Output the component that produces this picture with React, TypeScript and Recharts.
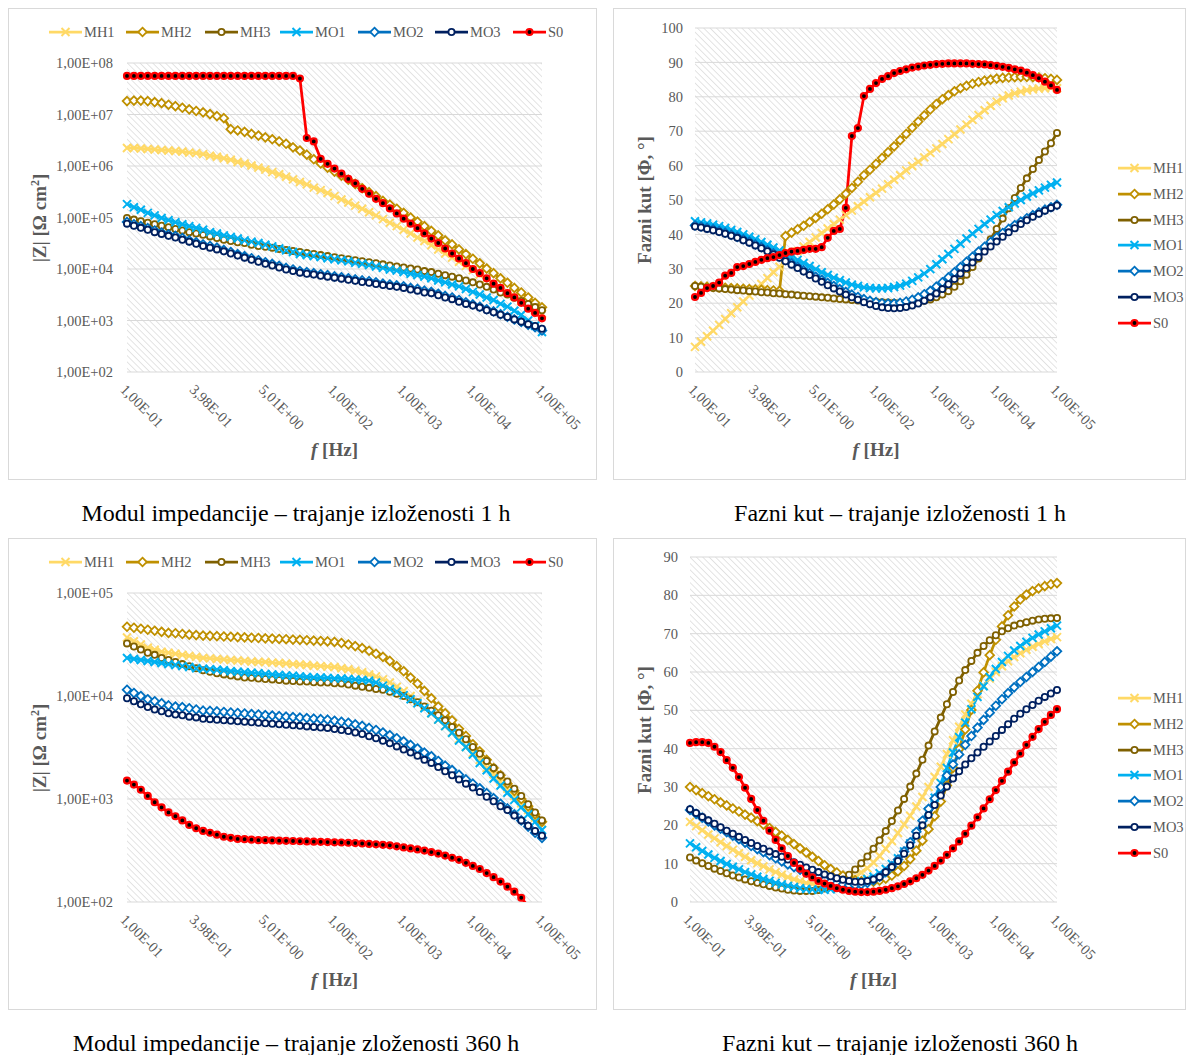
import React from "react";
import { LineChart, Line, XAxis, YAxis, CartesianGrid } from "recharts";

// 61 measuring points per series, a frequency label on every 10th one
const POINTS = Array.from({ length: 61 }, (_, i) => i);
const FREQ_TICKS = [0, 10, 20, 30, 40, 50, 60];
const FREQ_LABELS = ["1,00E-01", "3,98E-01", "5,01E+00", "1,00E+02", "1,00E+03", "1,00E+04", "1,00E+05"];

const SERIES = ["MH1", "MH2", "MH3", "MO1", "MO2", "MO3", "S0"];

const Z1_TICKS = [1e2, 1e3, 1e4, 1e5, 1e6, 1e7, 1e8];
const Z2_TICKS = [1e2, 1e3, 1e4, 1e5];
const P1_TICKS = [0, 10, 20, 30, 40, 50, 60, 70, 80, 90, 100];
const P2_TICKS = [0, 10, 20, 30, 40, 50, 60, 70, 80, 90];

// |Z| after 1 h
const Z1_MH1 = [2.24e6, 2.24e6, 2.19e6, 2.14e6, 2.09e6, 2.04e6, 2.0e6, 1.95e6, 1.91e6, 1.82e6, 1.78e6, 1.7e6, 1.58e6, 1.51e6, 1.41e6, 1.32e6, 1.2e6, 1.12e6, 1.02e6, 9.3e5, 8.5e5, 7.6e5, 6.9e5, 6.2e5, 5.5e5, 4.9e5, 4.4e5, 3.8e5, 3.4e5, 3.0e5, 2.6e5, 2.24e5, 1.95e5, 1.7e5, 1.48e5, 1.26e5, 1.1e5, 9.3e4, 7.9e4, 6.8e4, 5.8e4, 4.9e4, 4.1e4, 3.5e4, 2.9e4, 2.4e4, 2.0e4, 1.66e4, 1.38e4, 1.15e4, 9.5e3, 7.8e3, 6.5e3, 5.2e3, 4.4e3, 3.5e3, 2.95e3, 2.4e3, 2.0e3, 1.62e3, 1.35e3];
const Z1_MH2 = [1.82e7, 1.86e7, 1.86e7, 1.82e7, 1.74e7, 1.66e7, 1.55e7, 1.45e7, 1.35e7, 1.26e7, 1.17e7, 1.1e7, 1.02e7, 9.3e6, 8.5e6, 5.2e6, 4.9e6, 4.6e6, 4.2e6, 3.9e6, 3.6e6, 3.3e6, 3.0e6, 2.7e6, 2.3e6, 2.0e6, 1.66e6, 1.35e6, 1.12e6, 9.3e5, 7.8e5, 6.5e5, 5.4e5, 4.5e5, 3.7e5, 3.1e5, 2.6e5, 2.1e5, 1.78e5, 1.48e5, 1.23e5, 1.0e5, 8.3e4, 6.8e4, 5.5e4, 4.5e4, 3.6e4, 3.0e4, 2.4e4, 1.95e4, 1.58e4, 1.29e4, 1.02e4, 8.3e3, 6.6e3, 5.4e3, 4.3e3, 3.5e3, 2.8e3, 2.2e3, 1.8e3];
const Z1_MH3 = [9.8e4, 9.1e4, 8.5e4, 7.9e4, 7.4e4, 6.9e4, 6.5e4, 6.0e4, 5.6e4, 5.2e4, 4.9e4, 4.6e4, 4.3e4, 4.0e4, 3.7e4, 3.5e4, 3.3e4, 3.2e4, 2.95e4, 2.8e4, 2.7e4, 2.6e4, 2.45e4, 2.35e4, 2.24e4, 2.14e4, 2.04e4, 1.95e4, 1.86e4, 1.78e4, 1.7e4, 1.62e4, 1.55e4, 1.48e4, 1.41e4, 1.35e4, 1.29e4, 1.23e4, 1.17e4, 1.12e4, 1.07e4, 1.02e4, 9.8e3, 9.1e3, 8.7e3, 8.1e3, 7.6e3, 7.1e3, 6.6e3, 6.0e3, 5.5e3, 5.0e3, 4.5e3, 4.0e3, 3.5e3, 3.2e3, 2.75e3, 2.4e3, 2.1e3, 1.82e3, 1.58e3];
const Z1_MO1 = [1.82e5, 1.58e5, 1.41e5, 1.23e5, 1.1e5, 9.8e4, 8.9e4, 8.1e4, 7.4e4, 6.8e4, 6.3e4, 5.8e4, 5.2e4, 4.9e4, 4.5e4, 4.2e4, 3.9e4, 3.6e4, 3.4e4, 3.2e4, 2.95e4, 2.75e4, 2.5e4, 2.3e4, 2.14e4, 1.95e4, 1.86e4, 1.78e4, 1.7e4, 1.62e4, 1.55e4, 1.48e4, 1.41e4, 1.32e4, 1.26e4, 1.2e4, 1.12e4, 1.05e4, 9.8e3, 9.3e3, 8.7e3, 8.1e3, 7.6e3, 7.1e3, 6.6e3, 6.0e3, 5.5e3, 5.0e3, 4.6e3, 4.1e3, 3.6e3, 3.2e3, 2.8e3, 2.5e3, 2.1e3, 1.86e3, 1.55e3, 1.29e3, 1.0e3, 7.9e2, 6.0e2];
const Z1_MO2 = [8.2e4, 7.4e4, 6.8e4, 6.2e4, 5.6e4, 5.1e4, 4.7e4, 4.4e4, 4.0e4, 3.6e4, 3.3e4, 3.0e4, 2.8e4, 2.6e4, 2.35e4, 2.14e4, 1.95e4, 1.78e4, 1.62e4, 1.48e4, 1.35e4, 1.26e4, 1.15e4, 1.05e4, 9.8e3, 9.1e3, 8.7e3, 8.3e3, 7.9e3, 7.6e3, 7.2e3, 6.9e3, 6.6e3, 6.3e3, 6.0e3, 5.8e3, 5.5e3, 5.2e3, 5.0e3, 4.8e3, 4.6e3, 4.3e3, 4.1e3, 3.8e3, 3.6e3, 3.3e3, 3.0e3, 2.8e3, 2.5e3, 2.25e3, 2.05e3, 1.85e3, 1.65e3, 1.5e3, 1.32e3, 1.18e3, 1.05e3, 9.4e2, 8.3e2, 7.4e2, 6.4e2];
const Z1_MO3 = [7.6e4, 6.9e4, 6.3e4, 5.8e4, 5.2e4, 4.8e4, 4.4e4, 4.1e4, 3.7e4, 3.4e4, 3.1e4, 2.8e4, 2.6e4, 2.4e4, 2.2e4, 2.0e4, 1.82e4, 1.66e4, 1.51e4, 1.38e4, 1.26e4, 1.17e4, 1.07e4, 9.8e3, 9.1e3, 8.5e3, 8.1e3, 7.8e3, 7.4e3, 7.1e3, 6.8e3, 6.5e3, 6.2e3, 5.9e3, 5.6e3, 5.4e3, 5.1e3, 4.9e3, 4.7e3, 4.5e3, 4.3e3, 4.0e3, 3.8e3, 3.5e3, 3.4e3, 3.1e3, 2.8e3, 2.6e3, 2.3e3, 2.1e3, 1.95e3, 1.78e3, 1.58e3, 1.45e3, 1.29e3, 1.17e3, 1.05e3, 9.5e2, 8.5e2, 7.8e2, 6.9e2];
const Z1_S0 = [5.6e7, 5.6e7, 5.6e7, 5.6e7, 5.6e7, 5.6e7, 5.6e7, 5.6e7, 5.6e7, 5.6e7, 5.6e7, 5.6e7, 5.6e7, 5.6e7, 5.6e7, 5.6e7, 5.6e7, 5.6e7, 5.6e7, 5.6e7, 5.6e7, 5.6e7, 5.6e7, 5.6e7, 5.6e7, 5.0e7, 3.5e6, 3.0e6, 1.38e6, 1.1e6, 8.9e5, 7.1e5, 5.6e5, 4.6e5, 3.6e5, 2.9e5, 2.3e5, 1.9e5, 1.5e5, 1.2e5, 9.5e4, 7.6e4, 6.2e4, 4.9e4, 3.9e4, 3.2e4, 2.5e4, 2.0e4, 1.6e4, 1.3e4, 1.0e4, 8.3e3, 6.6e3, 5.2e3, 4.3e3, 3.4e3, 2.8e3, 2.2e3, 1.7e3, 1.4e3, 1.1e3];

// phase angle after 1 h
const P1_MH1 = [7.3, 8.8, 10.4, 12.0, 13.7, 15.4, 17.1, 18.8, 20.5, 22.2, 23.9, 25.6, 27.3, 29.0, 30.6, 32.2, 33.7, 35.1, 36.5, 37.8, 39.1, 40.4, 41.7, 43.0, 44.3, 45.6, 46.9, 48.2, 49.5, 50.8, 52.1, 53.3, 54.6, 55.9, 57.2, 58.6, 59.9, 61.1, 62.4, 63.7, 65.0, 66.3, 67.7, 69.1, 70.5, 71.9, 73.3, 74.7, 76.1, 77.4, 78.6, 79.6, 80.4, 81.0, 81.5, 81.9, 82.2, 82.4, 82.5, 82.6, 82.5];
const P1_MH2 = [25.0, 24.9, 24.8, 24.7, 24.6, 24.5, 24.4, 24.3, 24.2, 24.1, 24.0, 23.9, 23.8, 23.7, 23.6, 39.5, 40.5, 41.5, 42.5, 43.6, 44.8, 46.0, 47.3, 48.7, 50.2, 51.8, 53.5, 55.3, 57.2, 58.8, 60.5, 62.2, 63.9, 65.6, 67.4, 69.2, 71.0, 72.8, 74.6, 76.3, 77.9, 79.3, 80.5, 81.6, 82.5, 83.2, 83.8, 84.3, 84.7, 85.0, 85.3, 85.5, 85.6, 85.7, 85.8, 85.8, 85.7, 85.6, 85.4, 85.2, 84.9];
const P1_MH3 = [25.0, 24.8, 24.6, 24.4, 24.3, 24.1, 24.0, 23.8, 23.7, 23.5, 23.4, 23.2, 23.1, 22.9, 22.8, 22.6, 22.5, 22.3, 22.2, 22.0, 21.9, 21.7, 21.6, 21.4, 21.2, 21.1, 20.9, 20.8, 20.6, 20.5, 20.4, 20.3, 20.2, 20.1, 20.1, 20.1, 20.2, 20.4, 20.7, 21.1, 21.7, 22.5, 23.5, 24.8, 26.4, 28.3, 30.5, 33.0, 35.7, 38.6, 41.6, 44.6, 47.6, 50.6, 53.5, 56.3, 59.0, 61.6, 64.1, 66.5, 69.5];
const P1_MO1 = [43.8, 43.5, 43.2, 42.8, 42.4, 41.9, 41.3, 40.7, 40.0, 39.3, 38.6, 37.8, 37.0, 36.2, 35.3, 34.4, 33.5, 32.6, 31.7, 30.8, 29.9, 29.0, 28.2, 27.4, 26.7, 26.0, 25.4, 25.0, 24.6, 24.4, 24.3, 24.3, 24.4, 24.7, 25.1, 25.7, 26.5, 27.5, 28.6, 29.9, 31.3, 32.8, 34.3, 35.8, 37.3, 38.8, 40.2, 41.6, 43.0, 44.3, 45.6, 46.8, 47.9, 49.0, 50.0, 51.0, 51.9, 52.8, 53.6, 54.4, 55.1];
const P1_MO2 = [42.6, 42.3, 41.9, 41.5, 41.0, 40.5, 39.9, 39.3, 38.6, 37.9, 37.1, 36.3, 35.4, 34.5, 33.6, 32.6, 31.6, 30.6, 29.6, 28.7, 27.7, 26.8, 25.9, 25.0, 24.1, 23.3, 22.5, 21.8, 21.2, 20.7, 20.3, 20.0, 19.9, 19.9, 20.1, 20.5, 21.0, 21.7, 22.6, 23.6, 24.8, 26.1, 27.5, 29.0, 30.5, 32.0, 33.5, 35.0, 36.4, 37.8, 39.1, 40.4, 41.6, 42.7, 43.7, 44.7, 45.6, 46.4, 47.2, 47.9, 48.6];
const P1_MO3 = [42.3, 42.0, 41.6, 41.2, 40.7, 40.2, 39.6, 39.0, 38.3, 37.6, 36.8, 36.0, 35.1, 34.2, 33.2, 32.2, 31.2, 30.2, 29.2, 28.2, 27.2, 26.2, 25.2, 24.3, 23.4, 22.5, 21.7, 21.0, 20.3, 19.7, 19.2, 18.8, 18.6, 18.5, 18.6, 18.9, 19.3, 19.9, 20.7, 21.7, 22.8, 24.1, 25.5, 27.0, 28.6, 30.2, 31.8, 33.4, 35.0, 36.5, 37.9, 39.3, 40.6, 41.8, 43.0, 44.1, 45.1, 46.0, 46.9, 47.7, 48.4];
const P1_S0 = [21.8, 23.0, 24.4, 25.0, 26.0, 28.0, 28.8, 30.5, 30.8, 31.4, 32.0, 32.6, 33.1, 33.4, 34.0, 34.6, 35.0, 35.2, 35.5, 35.8, 35.8, 36.3, 39.0, 41.0, 41.6, 47.7, 68.6, 70.9, 80.2, 82.3, 84.0, 85.2, 86.0, 86.9, 87.5, 88.0, 88.5, 88.8, 89.1, 89.3, 89.5, 89.6, 89.7, 89.7, 89.7, 89.7, 89.6, 89.5, 89.4, 89.2, 89.0, 88.7, 88.4, 88.0, 87.6, 87.0, 86.3, 85.4, 84.4, 83.3, 82.0];

// |Z| after 360 h
const Z2_MH1 = [3.7e4, 3.4e4, 3.16e4, 2.95e4, 2.82e4, 2.69e4, 2.63e4, 2.57e4, 2.51e4, 2.45e4, 2.4e4, 2.34e4, 2.32e4, 2.29e4, 2.26e4, 2.24e4, 2.21e4, 2.19e4, 2.16e4, 2.14e4, 2.14e4, 2.11e4, 2.09e4, 2.07e4, 2.04e4, 2.02e4, 2.0e4, 1.97e4, 1.95e4, 1.93e4, 1.91e4, 1.86e4, 1.82e4, 1.76e4, 1.7e4, 1.62e4, 1.55e4, 1.45e4, 1.35e4, 1.23e4, 1.12e4, 1.0e4, 8.9e3, 7.8e3, 6.8e3, 5.9e3, 5.1e3, 4.4e3, 3.8e3, 3.2e3, 2.8e3, 2.4e3, 2.0e3, 1.74e3, 1.48e3, 1.26e3, 1.07e3, 9.1e2, 7.8e2, 6.6e2, 5.8e2];
const Z2_MH2 = [4.7e4, 4.6e4, 4.5e4, 4.4e4, 4.3e4, 4.2e4, 4.1e4, 4.07e4, 4.0e4, 3.94e4, 3.9e4, 3.86e4, 3.84e4, 3.81e4, 3.78e4, 3.76e4, 3.73e4, 3.71e4, 3.68e4, 3.66e4, 3.63e4, 3.61e4, 3.58e4, 3.56e4, 3.53e4, 3.51e4, 3.48e4, 3.45e4, 3.42e4, 3.39e4, 3.35e4, 3.27e4, 3.16e4, 3.05e4, 2.92e4, 2.75e4, 2.57e4, 2.4e4, 2.19e4, 1.95e4, 1.74e4, 1.51e4, 1.32e4, 1.12e4, 9.5e3, 7.9e3, 6.8e3, 5.8e3, 4.8e3, 4.1e3, 3.4e3, 2.9e3, 2.4e3, 2.0e3, 1.7e3, 1.41e3, 1.2e3, 1.0e3, 8.5e2, 7.1e2, 6.0e2];
const Z2_MH3 = [3.24e4, 3.02e4, 2.82e4, 2.63e4, 2.51e4, 2.34e4, 2.24e4, 2.14e4, 2.04e4, 1.95e4, 1.86e4, 1.78e4, 1.72e4, 1.66e4, 1.62e4, 1.58e4, 1.55e4, 1.51e4, 1.5e4, 1.48e4, 1.46e4, 1.45e4, 1.43e4, 1.41e4, 1.4e4, 1.38e4, 1.38e4, 1.36e4, 1.35e4, 1.35e4, 1.33e4, 1.32e4, 1.29e4, 1.26e4, 1.23e4, 1.2e4, 1.17e4, 1.15e4, 1.1e4, 1.05e4, 1.0e4, 9.3e3, 8.7e3, 7.9e3, 7.2e3, 6.5e3, 5.8e3, 5.0e3, 4.4e3, 3.8e3, 3.2e3, 2.75e3, 2.34e3, 2.0e3, 1.7e3, 1.48e3, 1.26e3, 1.07e3, 8.9e2, 7.4e2, 6.2e2];
const Z2_MO1 = [2.34e4, 2.29e4, 2.24e4, 2.19e4, 2.14e4, 2.09e4, 2.04e4, 2.0e4, 1.95e4, 1.91e4, 1.86e4, 1.84e4, 1.82e4, 1.8e4, 1.78e4, 1.74e4, 1.72e4, 1.7e4, 1.68e4, 1.66e4, 1.64e4, 1.62e4, 1.6e4, 1.58e4, 1.57e4, 1.55e4, 1.53e4, 1.51e4, 1.51e4, 1.5e4, 1.48e4, 1.48e4, 1.46e4, 1.45e4, 1.43e4, 1.41e4, 1.35e4, 1.26e4, 1.17e4, 1.1e4, 1.02e4, 9.3e3, 8.5e3, 7.6e3, 6.8e3, 5.9e3, 5.1e3, 4.4e3, 3.7e3, 3.2e3, 2.7e3, 2.24e3, 1.9e3, 1.58e3, 1.35e3, 1.15e3, 9.8e2, 8.3e2, 7.1e2, 6.0e2, 5.0e2];
const Z2_MO2 = [1.15e4, 1.07e4, 1.0e4, 9.3e3, 8.9e3, 8.5e3, 8.1e3, 7.9e3, 7.8e3, 7.6e3, 7.4e3, 7.2e3, 7.16e3, 7.08e3, 7.0e3, 6.92e3, 6.84e3, 6.76e3, 6.68e3, 6.61e3, 6.53e3, 6.46e3, 6.38e3, 6.31e3, 6.24e3, 6.17e3, 6.1e3, 6.03e3, 5.96e3, 5.89e3, 5.75e3, 5.62e3, 5.5e3, 5.31e3, 5.13e3, 4.9e3, 4.68e3, 4.42e3, 4.17e3, 3.89e3, 3.63e3, 3.35e3, 3.09e3, 2.82e3, 2.6e3, 2.34e3, 2.11e3, 1.91e3, 1.72e3, 1.55e3, 1.41e3, 1.27e3, 1.14e3, 1.02e3, 9.0e2, 8.1e2, 7.1e2, 6.2e2, 5.4e2, 4.7e2, 4.2e2];
const Z2_MO3 = [9.5e3, 8.9e3, 8.3e3, 7.8e3, 7.4e3, 7.1e3, 6.8e3, 6.6e3, 6.5e3, 6.3e3, 6.2e3, 6.0e3, 5.96e3, 5.89e3, 5.82e3, 5.75e3, 5.69e3, 5.62e3, 5.56e3, 5.5e3, 5.43e3, 5.37e3, 5.31e3, 5.25e3, 5.19e3, 5.13e3, 5.07e3, 5.01e3, 4.95e3, 4.9e3, 4.79e3, 4.68e3, 4.57e3, 4.42e3, 4.27e3, 4.07e3, 3.89e3, 3.67e3, 3.47e3, 3.24e3, 3.02e3, 2.82e3, 2.63e3, 2.4e3, 2.24e3, 2.04e3, 1.86e3, 1.7e3, 1.55e3, 1.41e3, 1.29e3, 1.17e3, 1.05e3, 9.5e2, 8.5e2, 7.8e2, 6.9e2, 6.2e2, 5.5e2, 4.9e2, 4.4e2];
const Z2_S0 = [1.51e3, 1.38e3, 1.23e3, 1.07e3, 9.3e2, 8.3e2, 7.4e2, 6.8e2, 6.2e2, 5.6e2, 5.2e2, 4.9e2, 4.7e2, 4.5e2, 4.3e2, 4.2e2, 4.1e2, 4.07e2, 4.03e2, 3.98e2, 3.98e2, 3.96e2, 3.94e2, 3.93e2, 3.91e2, 3.89e2, 3.87e2, 3.85e2, 3.84e2, 3.82e2, 3.8e2, 3.78e2, 3.76e2, 3.73e2, 3.7e2, 3.66e2, 3.63e2, 3.59e2, 3.55e2, 3.47e2, 3.39e2, 3.31e2, 3.24e2, 3.16e2, 3.05e2, 2.95e2, 2.82e2, 2.69e2, 2.57e2, 2.4e2, 2.24e2, 2.09e2, 1.91e2, 1.74e2, 1.58e2, 1.41e2, 1.26e2, 1.1e2, 91, 76, 63];

// phase angle after 360 h
const P2_MH1 = [20.9, 19.8, 18.7, 17.6, 16.6, 15.6, 14.6, 13.6, 12.7, 11.8, 10.9, 10.1, 9.3, 8.5, 7.8, 7.1, 6.5, 5.9, 5.4, 5.0, 4.7, 4.5, 4.4, 4.4, 4.5, 5.0, 5.6, 6.5, 7.7, 8.8, 10.3, 12.0, 13.9, 15.9, 18.0, 20.2, 22.5, 24.9, 27.4, 30.0, 32.6, 35.3, 38.6, 42.2, 45.7, 48.9, 51.7, 54.2, 56.4, 58.3, 60.0, 61.5, 62.8, 63.9, 64.9, 65.8, 66.6, 67.3, 68.0, 68.6, 69.1];
const P2_MH2 = [30.0, 29.2, 28.4, 27.6, 26.8, 26.0, 25.2, 24.4, 23.6, 22.8, 22.0, 21.1, 20.2, 19.3, 18.3, 17.3, 16.2, 15.1, 14.0, 12.9, 11.8, 10.7, 9.6, 8.6, 7.7, 6.9, 6.2, 5.7, 5.4, 5.3, 5.3, 5.6, 6.1, 6.9, 8.0, 9.4, 11.2, 13.4, 16.0, 19.0, 22.4, 26.2, 30.4, 35.0, 39.9, 45.0, 50.1, 55.1, 59.9, 64.4, 68.4, 71.9, 74.8, 77.1, 78.9, 80.2, 81.1, 81.8, 82.4, 82.9, 83.2];
const P2_MH3 = [11.6, 10.8, 10.1, 9.4, 8.7, 8.1, 7.5, 6.9, 6.4, 5.9, 5.4, 5.0, 4.6, 4.2, 3.8, 3.5, 3.2, 3.0, 2.9, 2.9, 2.9, 3.1, 3.5, 4.1, 4.9, 5.9, 7.1, 8.5, 10.1, 11.9, 13.9, 16.1, 18.5, 21.1, 23.9, 26.9, 30.1, 33.5, 37.1, 40.8, 44.5, 48.1, 51.6, 54.8, 57.8, 60.5, 62.9, 65.0, 66.8, 68.3, 69.6, 70.6, 71.4, 72.1, 72.6, 73.0, 73.4, 73.7, 73.9, 74.0, 74.1];
const P2_MO1 = [15.3, 14.3, 13.3, 12.4, 11.5, 10.7, 9.9, 9.2, 8.5, 7.8, 7.2, 6.6, 6.0, 5.5, 5.0, 4.6, 4.2, 3.9, 3.6, 3.4, 3.3, 3.2, 3.2, 3.3, 3.5, 3.8, 4.3, 4.8, 5.4, 6.0, 6.6, 7.5, 8.6, 9.9, 11.4, 13.2, 15.3, 17.8, 20.6, 23.7, 27.2, 31.0, 35.0, 39.0, 43.0, 46.8, 50.3, 53.5, 56.3, 58.7, 60.8, 62.6, 64.2, 65.6, 66.8, 67.9, 68.9, 69.8, 70.6, 71.4, 72.1];
const P2_MO2 = [24.0, 23.0, 22.0, 21.0, 20.0, 19.1, 18.2, 17.3, 16.4, 15.5, 14.6, 13.8, 13.0, 12.2, 11.4, 10.6, 9.8, 9.1, 8.4, 7.7, 7.0, 6.4, 5.8, 5.3, 4.9, 4.6, 4.4, 4.4, 4.6, 5.0, 5.7, 6.6, 7.8, 9.3, 11.1, 13.2, 15.6, 18.3, 21.2, 24.3, 27.0, 30.0, 33.0, 35.9, 38.5, 41.0, 43.3, 45.5, 47.5, 49.4, 51.2, 52.9, 54.5, 56.0, 57.4, 58.7, 60.0, 61.3, 62.6, 64.0, 65.4];
const P2_MO3 = [24.2, 23.2, 22.2, 21.3, 20.4, 19.5, 18.6, 17.8, 17.0, 16.2, 15.4, 14.6, 13.9, 13.2, 12.5, 11.8, 11.1, 10.4, 9.7, 9.0, 8.4, 7.8, 7.2, 6.7, 6.2, 5.8, 5.5, 5.3, 5.3, 5.5, 5.9, 6.5, 7.8, 9.1, 10.7, 12.6, 14.8, 17.3, 20.0, 22.7, 25.3, 27.8, 30.1, 32.2, 34.1, 35.9, 37.5, 39.0, 40.5, 41.9, 43.3, 44.9, 46.4, 47.8, 49.1, 50.3, 51.4, 52.5, 53.5, 54.4, 55.3];
const P2_S0 = [41.5, 41.7, 41.7, 41.5, 40.5, 39.1, 37.0, 35.0, 32.6, 29.8, 26.9, 24.0, 21.2, 18.6, 16.2, 14.0, 12.0, 10.2, 8.7, 7.4, 6.4, 5.5, 4.8, 4.2, 3.6, 3.2, 2.9, 2.7, 2.6, 2.6, 2.7, 2.9, 3.2, 3.6, 4.1, 4.7, 5.4, 6.2, 7.1, 8.2, 9.4, 10.8, 12.3, 14.0, 15.8, 17.8, 19.9, 22.1, 24.4, 26.8, 29.2, 31.6, 34.0, 36.4, 38.7, 41.0, 43.1, 45.1, 47.0, 48.8, 50.3];

const STYLE: Record<string, { color: string; marker: string }> = {
  MH1: { color: "#FFD966", marker: "x" },
  MH2: { color: "#BF9000", marker: "diamond" },
  MH3: { color: "#7F6000", marker: "circle" },
  MO1: { color: "#00B0F0", marker: "x" },
  MO2: { color: "#0070C0", marker: "diamond" },
  MO3: { color: "#002060", marker: "circle" },
  S0: { color: "#FF0000", marker: "dot" },
};

const FONT = '"Liberation Serif", "Times New Roman", serif';
const GREY = "#595959";

function buildRows(cols: number[][]) {
  return POINTS.map((i) => {
    const row: Record<string, number> = { i };
    SERIES.forEach((name, k) => {
      row[name] = cols[k][i];
    });
    return row;
  });
}

const ROWS_Z1 = buildRows([Z1_MH1, Z1_MH2, Z1_MH3, Z1_MO1, Z1_MO2, Z1_MO3, Z1_S0]);
const ROWS_P1 = buildRows([P1_MH1, P1_MH2, P1_MH3, P1_MO1, P1_MO2, P1_MO3, P1_S0]);
const ROWS_Z2 = buildRows([Z2_MH1, Z2_MH2, Z2_MH3, Z2_MO1, Z2_MO2, Z2_MO3, Z2_S0]);
const ROWS_P2 = buildRows([P2_MH1, P2_MH2, P2_MH3, P2_MO1, P2_MO2, P2_MO3, P2_S0]);

const fmtExp = (v: number) => {
  const e = Math.round(Math.log10(v));
  return `1,00E${e < 0 ? "-" : "+"}${String(Math.abs(e)).padStart(2, "0")}`;
};

function Marker({ cx, cy, name }: { cx: number; cy: number; name: string }) {
  if (cx == null || cy == null || isNaN(cy)) return null;
  const { color, marker } = STYLE[name];
  if (marker === "x") {
    const s = 4;
    return (
      <path
        d={`M${cx - s},${cy - s}L${cx + s},${cy + s}M${cx - s},${cy + s}L${cx + s},${cy - s}`}
        stroke={color}
        strokeWidth={2}
        fill="none"
      />
    );
  }
  if (marker === "diamond") {
    const s = 4.3;
    return (
      <path
        d={`M${cx},${cy - s}L${cx + s},${cy}L${cx},${cy + s}L${cx - s},${cy}Z`}
        fill="#fff"
        stroke={color}
        strokeWidth={1.8}
      />
    );
  }
  if (marker === "circle") {
    return <circle cx={cx} cy={cy} r={3.1} fill="#fff" stroke={color} strokeWidth={1.8} />;
  }
  return <circle cx={cx} cy={cy} r={3} fill="#000" stroke={color} strokeWidth={2.2} />;
}

function FreqTick(props: any) {
  const { x, y, payload } = props;
  const label = FREQ_LABELS[FREQ_TICKS.indexOf(payload.value)];
  return (
    <g transform={`translate(${x},${y + 9}) rotate(45)`}>
      <text x={0} y={0} dy="0.72em" fill={GREY} fontSize={14.5} fontFamily={FONT} textAnchor="start">
        {label}
      </text>
    </g>
  );
}

function LegendItem({ name }: { name: string }) {
  return (
    <div style={{ display: "flex", alignItems: "center", height: 16 }}>
      <svg width={33} height={12}>
        <line x1={0} y1={6} x2={33} y2={6} stroke={STYLE[name].color} strokeWidth={2.75} />
        <Marker cx={16.5} cy={6} name={name} />
      </svg>
      <span style={{ marginLeft: 2, fontSize: 14.5, color: GREY, lineHeight: "16px" }}>{name}</span>
    </div>
  );
}

const TOP_LEGEND_X = [49, 126, 205, 280, 358, 435, 513];

type PanelProps = {
  id: string;
  left: number;
  top: number;
  width: number;
  rows: Record<string, number>[];
  log: boolean;
  yDomain: [number, number];
  yTicks: number[];
  yWidth: number;
  plotTop: number;
  right: number;
  legend: "top" | "right";
  legendTop: number;
  yTitle: React.ReactNode;
  yTitleX: number;
  caption: string;
  captionX: number;
};

function Panel(p: PanelProps) {
  const height = 472;
  const plotLeft = p.left + p.yWidth;
  const plotRight = p.left + p.width - p.right;
  const plotBottom = p.top + height - 108;
  return (
    <>
      <div
        style={{
          position: "absolute",
          left: p.left,
          top: p.top,
          width: p.width,
          height,
          boxSizing: "border-box",
          border: "1px solid #d9d9d9",
        }}
      />
      <div style={{ position: "absolute", left: p.left, top: p.top }}>
        <LineChart
          width={p.width}
          height={height}
          data={p.rows}
          margin={{ top: p.plotTop - p.top, right: p.right, left: 0, bottom: 0 }}
        >
          <defs>
            <pattern
              id={`hatch-${p.id}`}
              width={4.5}
              height={4.5}
              patternUnits="userSpaceOnUse"
              patternTransform="rotate(-45)"
            >
              <line x1={0} y1={0} x2={0} y2={4.5} stroke="#d9d9d9" strokeWidth={1.4} />
            </pattern>
          </defs>
          <CartesianGrid vertical={false} stroke="#d9d9d9" strokeWidth={1} fill={`url(#hatch-${p.id})`} />
          <XAxis
            type="number"
            dataKey="i"
            domain={[0, 60]}
            ticks={FREQ_TICKS}
            interval={0}
            height={108}
            axisLine={false}
            tickLine={false}
            tickSize={0}
            tick={<FreqTick />}
          />
          <YAxis
            type="number"
            scale={p.log ? "log" : "linear"}
            domain={p.yDomain}
            ticks={p.yTicks}
            interval={0}
            allowDataOverflow
            width={p.yWidth}
            axisLine={false}
            tickLine={false}
            tickSize={0}
            tickMargin={p.log ? 14 : 12}
            tickFormatter={p.log ? fmtExp : (v: number) => String(v)}
            tick={{ fill: GREY, fontSize: 14.5, fontFamily: FONT }}
          />
          {SERIES.map((name) => (
            <Line
              key={name}
              type="linear"
              dataKey={name}
              stroke={STYLE[name].color}
              strokeWidth={2.75}
              dot={(d: any) => <Marker key={`${name}-${d.index}`} cx={d.cx} cy={d.cy} name={name} />}
              activeDot={false}
              isAnimationActive={false}
            />
          ))}
        </LineChart>
      </div>

      {p.legend === "top"
        ? SERIES.map((name, k) => (
            <div key={name} style={{ position: "absolute", left: p.left - 8 + TOP_LEGEND_X[k], top: p.legendTop - 8 }}>
              <LegendItem name={name} />
            </div>
          ))
        : SERIES.map((name, k) => (
            <div key={name} style={{ position: "absolute", left: 1118, top: p.legendTop - 8 + k * 25.8 }}>
              <LegendItem name={name} />
            </div>
          ))}

      <div style={{ position: "absolute", left: p.yTitleX, top: (p.plotTop + plotBottom) / 2, width: 0, height: 0 }}>
        <div
          style={{
            position: "absolute",
            transform: "translate(-50%, -50%) rotate(-90deg)",
            whiteSpace: "nowrap",
            fontWeight: "bold",
            fontSize: 19,
            color: GREY,
          }}
        >
          {p.yTitle}
        </div>
      </div>

      <div
        style={{
          position: "absolute",
          left: (plotLeft + plotRight) / 2,
          top: p.top + 442,
          transform: "translate(-50%, -50%)",
          whiteSpace: "nowrap",
          fontWeight: "bold",
          fontSize: 19,
          color: GREY,
        }}
      >
        <i>f</i> [Hz]
      </div>

      <div
        style={{
          position: "absolute",
          left: p.captionX,
          top: p.top + height + 33,
          transform: "translate(-50%, -50%)",
          whiteSpace: "nowrap",
          fontSize: 24,
          color: "#000",
        }}
      >
        {p.caption}
      </div>
    </>
  );
}

export default function App() {
  const zTitle = (
    <span>
      |Z| [Ω cm<sup style={{ fontSize: 12 }}>2</sup>]
    </span>
  );
  const pTitle = <span>Fazni kut [Φ, °]</span>;
  return (
    <div
      style={{
        position: "absolute",
        left: 0,
        top: 0,
        width: 1194,
        height: 1055,
        background: "#fff",
        fontFamily: FONT,
        overflow: "hidden",
      }}
    >
      <Panel
        id="z1"
        left={8}
        top={8}
        width={589}
        rows={ROWS_Z1}
        log
        yDomain={[1e2, 1e8]}
        yTicks={Z1_TICKS}
        yWidth={119}
        plotTop={63}
        right={55}
        legend="top"
        legendTop={32}
        yTitle={zTitle}
        yTitleX={40}
        caption="Modul impedancije – trajanje izloženosti 1 h"
        captionX={296}
      />
      <Panel
        id="p1"
        left={613}
        top={8}
        width={573}
        rows={ROWS_P1}
        log={false}
        yDomain={[0, 100]}
        yTicks={P1_TICKS}
        yWidth={82}
        plotTop={28}
        right={129}
        legend="right"
        legendTop={168}
        yTitle={pTitle}
        yTitleX={645}
        caption="Fazni kut – trajanje izloženosti 1 h"
        captionX={900}
      />
      <Panel
        id="z2"
        left={8}
        top={538}
        width={589}
        rows={ROWS_Z2}
        log
        yDomain={[1e2, 1e5]}
        yTicks={Z2_TICKS}
        yWidth={119}
        plotTop={593}
        right={55}
        legend="top"
        legendTop={562}
        yTitle={zTitle}
        yTitleX={40}
        caption="Modul impedancije – trajanje zloženosti 360 h"
        captionX={296}
      />
      <Panel
        id="p2"
        left={613}
        top={538}
        width={573}
        rows={ROWS_P2}
        log={false}
        yDomain={[0, 90]}
        yTicks={P2_TICKS}
        yWidth={77}
        plotTop={557}
        right={129}
        legend="right"
        legendTop={698}
        yTitle={pTitle}
        yTitleX={645}
        caption="Fazni kut – trajanje izloženosti 360 h"
        captionX={900}
      />
    </div>
  );
}
